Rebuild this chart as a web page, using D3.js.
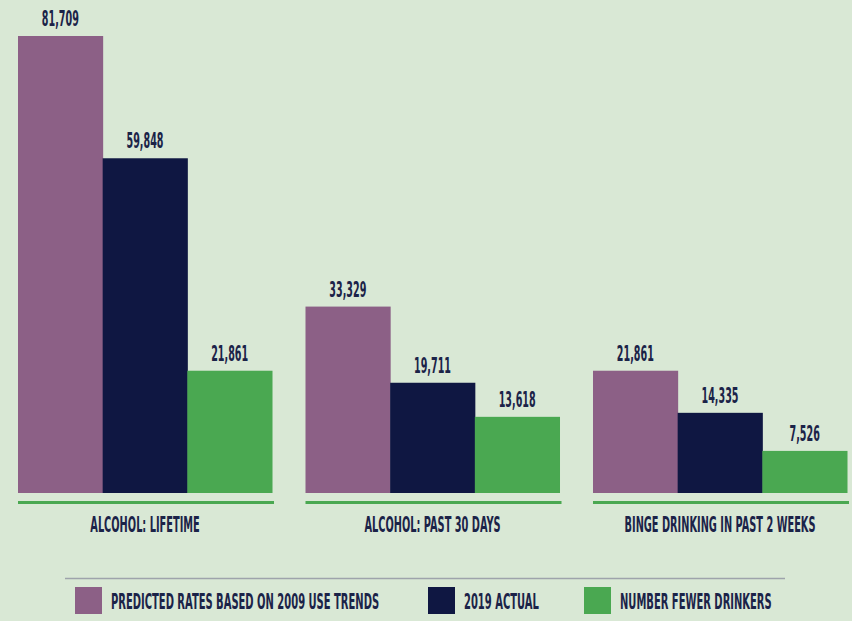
<!DOCTYPE html>
<html>
<head>
<meta charset="utf-8">
<script src="https://cdn.jsdelivr.net/npm/d3@7"></script>
<style>
  html, body { margin: 0; padding: 0; background: #d9e8d5; }
  svg { display: block; }
  text { font-family: "Liberation Sans Narrow", "DejaVu Sans Condensed", "Liberation Sans", sans-serif; font-weight: bold; fill: #1b2348; }
</style>
</head>
<body>
<svg id="chart" width="852" height="621"></svg>
<script>
// Survey measures and series
const categories = ["ALCOHOL: LIFETIME", "ALCOHOL: PAST 30 DAYS", "BINGE DRINKING IN PAST 2 WEEKS"];
const seriesNames = ["PREDICTED RATES BASED ON 2009 USE TRENDS", "2019 ACTUAL", "NUMBER FEWER DRINKERS"];
const predicted = [81709, 33329, 21861];
const actual2019 = [59848, 19711, 14335];
const fewer = [21861, 13618, 7526];
const seriesColors = ["#8c6086", "#0f1742", "#4aa851"];

const seriesValues = [predicted, actual2019, fewer];
const svg = d3.select("#chart");
const fmt = d3.format(",");

const x0 = d3.scaleBand().domain(categories).range([18, 847]).paddingInner(0.1165).paddingOuter(0);
const x1 = d3.scaleBand().domain(seriesNames).range([0, x0.bandwidth()]).padding(0);
const y = d3.scaleLinear().domain([0, d3.max(predicted)]).range([493, 36]);
const color = d3.scaleOrdinal().domain(seriesNames).range(seriesColors);

// horizontally condensed label helper
function condensed(sel, x, yPos, str, size, sx, anchor) {
  const g = sel.append("g").attr("transform", `translate(${x},${yPos}) scale(${sx},1)`);
  g.append("text").attr("font-size", size).attr("text-anchor", anchor || "middle").text(str);
  return g;
}

const groups = svg.selectAll("g.group")
  .data(categories)
  .join("g")
  .attr("class", "group")
  .attr("transform", d => `translate(${x0(d)},0)`);

groups.each(function(cat, ci) {
  const g = d3.select(this);
  const rows = seriesNames.map((s, si) => ({ series: s, value: seriesValues[si][ci] }));
  g.selectAll("rect")
    .data(rows)
    .join("rect")
    .attr("x", d => x1(d.series))
    .attr("y", d => y(d.value))
    .attr("width", x1.bandwidth() + 0.5)
    .attr("height", d => y(0) - y(d.value))
    .attr("fill", d => color(d.series));
  rows.forEach(d => {
    condensed(g, x1(d.series) + x1.bandwidth() / 2, y(d.value) - 10, fmt(d.value), 20.5, 0.52);
  });
  // green rule under each group
  g.append("line")
    .attr("x1", 0).attr("x2", x0.bandwidth() + 2)
    .attr("y1", y(0) + 9.5).attr("y2", y(0) + 9.5)
    .attr("stroke", "#4aa851").attr("stroke-width", 3);
  condensed(g, x0.bandwidth() / 2, 532, cat, 22, 0.495);
});

// legend
svg.append("line")
  .attr("x1", 65).attr("x2", 785).attr("y1", 578.5).attr("y2", 578.5)
  .attr("stroke", "#9ea3ab").attr("stroke-width", 1.5);

const legendX = [75, 428, 584];
seriesNames.forEach((s, i) => {
  svg.append("rect")
    .attr("x", legendX[i]).attr("y", 587)
    .attr("width", 27).attr("height", 27)
    .attr("fill", color(s));
  condensed(svg, legendX[i] + 36, 609, s, 20.5, 0.54, "start");
});
</script>
</body>
</html>
